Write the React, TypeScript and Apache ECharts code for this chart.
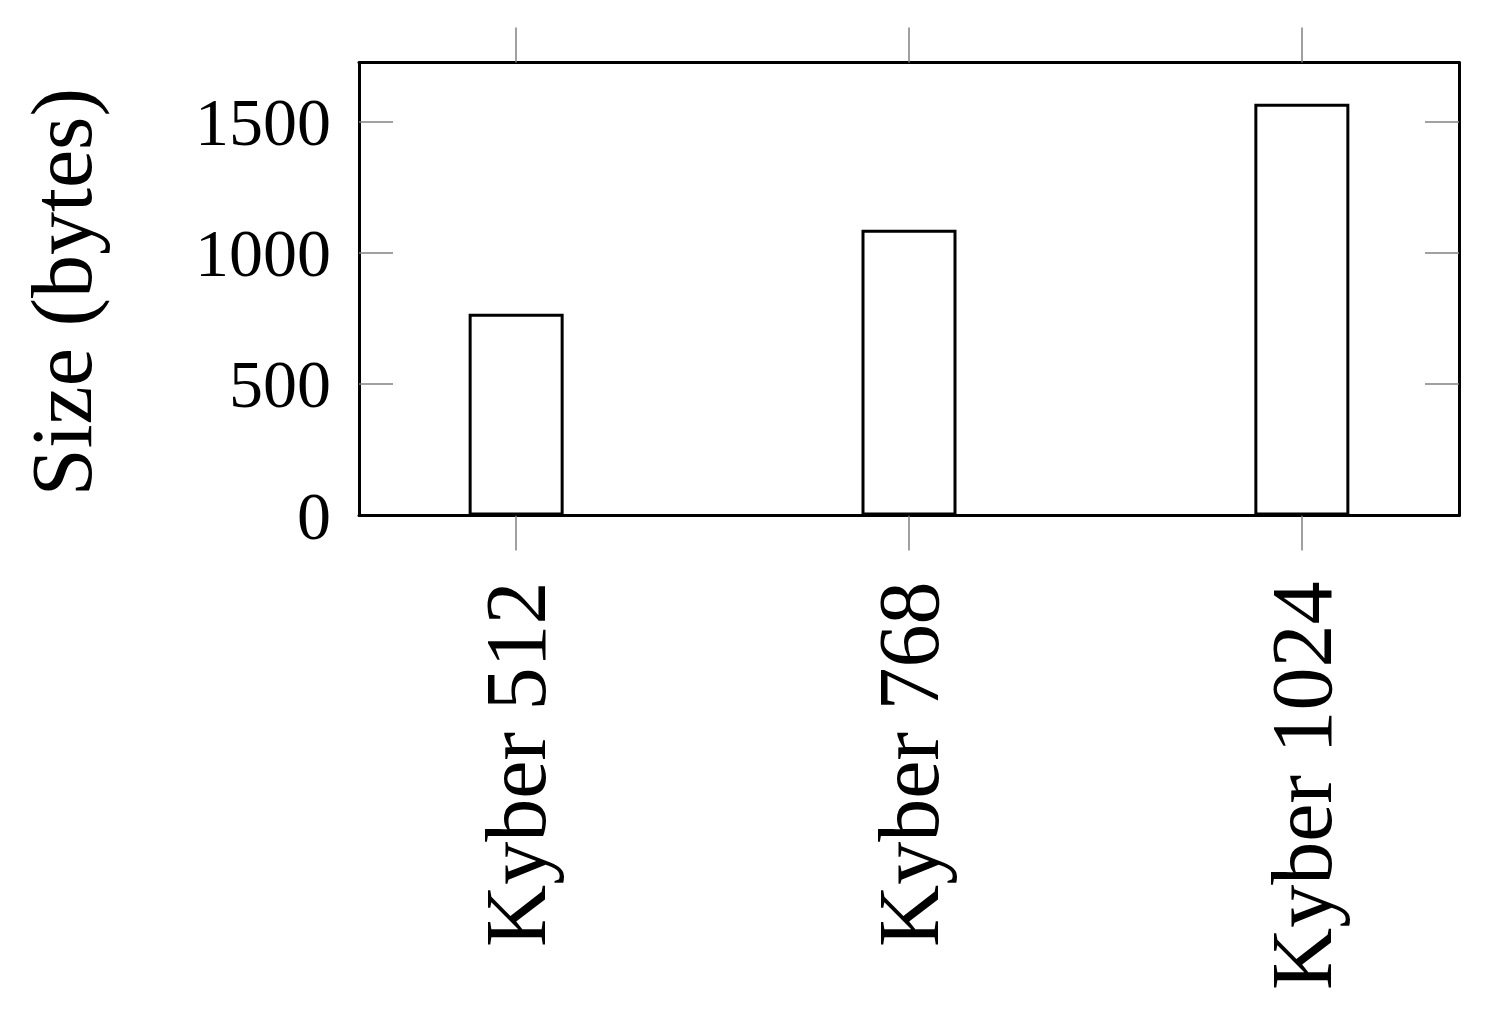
import React, { useEffect, useRef } from "react";
import * as echarts from "echarts";

const categories = ["Kyber 512", "Kyber 768", "Kyber 1024"];
const sizes = [768, 1088, 1568];
const yTicks = [0, 500, 1000, 1500];
const yAxisTitle = "Size (bytes)";

const FONT = "Liberation Serif";
const TICK_COLOR = "#808080";

export default function App() {
  const ref = useRef<HTMLDivElement>(null);
  useEffect(() => {
    if (!ref.current) return;
    const chart = echarts.init(ref.current, null, { renderer: "svg" });
    const xIdx = categories.map((_, i) => i);
    const xMin = -0.4;
    const xMax = categories.length - 1 + 0.4;
    const yMax = Math.max(...sizes) * 1.1;
    const frame = { show: true, onZero: false, lineStyle: { color: "#000", width: 3 } };
    chart.setOption({
      animation: false,
      backgroundColor: "#fff",
      grid: { left: 359, right: 32, top: 62.5, bottom: 493.5, containLabel: false },
      xAxis: [
        {
          type: "value",
          position: "bottom",
          min: xMin,
          max: xMax,
          axisLine: frame,
          splitLine: { show: false },
          axisTick: {
            show: true,
            inside: false,
            length: 35,
            customValues: xIdx,
            lineStyle: { color: TICK_COLOR, width: 1.5 },
          },
          axisLabel: {
            show: true,
            customValues: xIdx,
            rotate: 90,
            margin: 66,
            fontFamily: FONT,
            fontSize: 86,
            color: "#000",
            formatter: (v: number) => categories[Math.round(v)] ?? "",
          },
        },
        {
          type: "value",
          position: "top",
          min: xMin,
          max: xMax,
          axisLine: frame,
          splitLine: { show: false },
          axisTick: {
            show: true,
            inside: false,
            length: 35,
            customValues: xIdx,
            lineStyle: { color: TICK_COLOR, width: 1.5 },
          },
          axisLabel: { show: false },
        },
      ],
      yAxis: [
        {
          type: "value",
          position: "left",
          min: 0,
          max: yMax,
          axisLine: frame,
          splitLine: { show: false },
          axisTick: {
            show: true,
            inside: true,
            length: 34,
            customValues: yTicks.filter((v) => v > 0),
            lineStyle: { color: TICK_COLOR, width: 1.5 },
          },
          axisLabel: {
            show: true,
            customValues: yTicks,
            margin: 28,
            fontFamily: FONT,
            fontSize: 68,
            color: "#000",
            formatter: (v: number) => String(Math.round(v)),
          },
        },
        {
          type: "value",
          position: "right",
          min: 0,
          max: yMax,
          axisLine: frame,
          splitLine: { show: false },
          axisTick: {
            show: true,
            inside: true,
            length: 34,
            customValues: yTicks.filter((v) => v > 0),
            lineStyle: { color: TICK_COLOR, width: 1.5 },
          },
          axisLabel: { show: false },
        },
      ],
      graphic: [
        {
          type: "text",
          x: 62,
          y: 292,
          rotation: Math.PI / 2,
          style: {
            text: yAxisTitle,
            fontFamily: FONT,
            fontSize: 86,
            fill: "#000",
            align: "center",
            verticalAlign: "middle",
          },
        },
      ],
      series: [
        {
          type: "bar",
          xAxisIndex: 0,
          yAxisIndex: 0,
          barWidth: 95,
          data: sizes.map((v, i) => [i, v]),
          itemStyle: { color: "#fff", borderColor: "#000", borderWidth: 3 },
          z: 1,
        },
      ],
    });
    return () => chart.dispose();
  }, []);
  return (
    <div
      ref={ref}
      style={{ position: "fixed", left: 0, top: 0, width: 1491, height: 1009, background: "#fff" }}
    />
  );
}
